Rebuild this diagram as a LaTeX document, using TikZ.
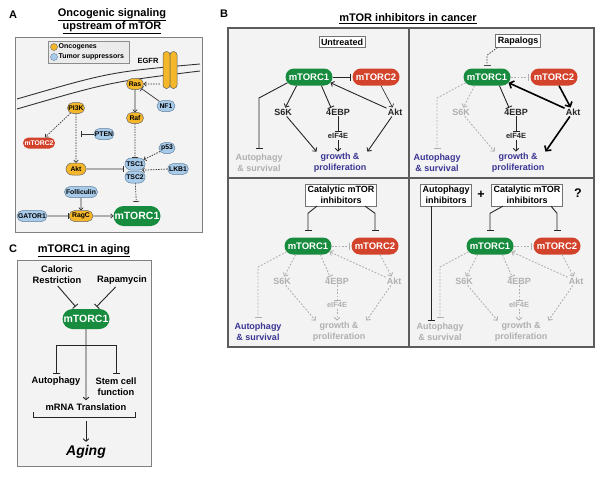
\documentclass[tikz,border=0pt]{standalone}
\usepackage{fontspec}
\setmainfont{Liberation Sans}
\usetikzlibrary{arrows.meta,shapes.misc,calc}
\definecolor{mgreen}{HTML}{178C3E}
\definecolor{mred}{HTML}{D3432B}
\definecolor{onc}{HTML}{F5B72A}
\definecolor{sup}{HTML}{A9CBEA}
\definecolor{supd}{HTML}{62819F}
\definecolor{purp}{HTML}{3B3594}
\definecolor{lgray}{HTML}{B0B0B0}
\definecolor{panel}{HTML}{F3F3F3}
\definecolor{frame}{HTML}{5C5C5C}
\newcommand\ftTitle{\bfseries\fontsize{11}{12}\selectfont}
\newcommand\ftLab{\bfseries\fontsize{9}{11}\selectfont}
\newcommand\ftCLab{\bfseries\fontsize{9.3}{11}\selectfont}
\newcommand\ftSmall{\bfseries\fontsize{7.5}{9}\selectfont}
\newcommand\ftTiny{\bfseries\fontsize{6.8}{8}\selectfont}
\newcommand\ftLeg{\bfseries\fontsize{7}{8}\selectfont}
\newcommand\ftMid{\bfseries\fontsize{9.5}{11}\selectfont}
\newcommand\ftBig{\bfseries\fontsize{10.5}{12}\selectfont}
\newcommand\ftAging{\bfseries\itshape\fontsize{14}{16}\selectfont}
\newcommand\ftQ{\bfseries\fontsize{12.5}{14}\selectfont}
\newcommand\mtorgraph[1]{%
  \node[c1box] (#1c1) at (0,0) {mTORC1};
  \node[c2box] (#1c2) at (67,0) {mTORC2};
  \node[lab,ts6k] (#1s6k) at (-26,35) {S6K};
  \node[lab,tebp] (#1ebp) at (29,35) {4EBP};
  \node[lab,takt] (#1akt) at (86,35) {Akt};
  \node[lab,teif,font=\ftSmall] (#1eif) at (29,59) {eIF4E};
  \node[lab,tgr] (#1gr) at (31,85.5) {growth \&\\proliferation};
  \node[lab,taut] (#1aut) at (-50,85.5) {Autophagy\\\& survival};
  \coordinate (#1bend) at (-50,21);
  \draw[ec1c2, shorten >=1pt] (#1c1.east) -- (#1c2.west);
  \draw[ec1s6k] (#1c1.-145) -- (#1s6k);
  \draw[ec1ebp] (#1c1.-35) -- ([xshift=-7pt]#1ebp.north);
  \draw[ec2akt] (#1c2.-60) -- (#1akt);
  \draw[eaktc1] (#1akt) -- (#1c1.-15);
  \draw[eebpeif] (#1ebp) -- (#1eif);
  \draw[eeifgr] (#1eif) -- (#1eif |- #1gr.north);
  \draw[es6kgr] (#1s6k) -- ([xshift=4pt]#1gr.north west);
  \draw[eaktgr] (#1akt) -- (#1gr.north east);
  \draw[ec1aut, shorten >=4pt] (#1c1.-165) -- (#1bend) -- (#1aut.north);
}
\begin{document}
\begin{tikzpicture}[x=1pt,y=-1pt,
  pframe/.style={fill=panel, draw=black!50, line width=0.8pt},
  pill/.style={rounded rectangle, inner sep=1pt, font=\ftTiny, minimum height=11pt, line width=0.5pt},
  oncn/.style={pill, fill=onc, draw=black!60},
  supn/.style={pill, fill=sup, draw=supd},
  c1A/.style={rounded rectangle, fill=mgreen, text=white, font=\ftBig, minimum width=49pt, minimum height=20pt, inner sep=1pt},
  c2A/.style={pill, fill=mred, text=white, minimum width=31pt},
  c1box/.style={rounded rectangle, fill=mgreen, text=white, font=\ftMid, minimum width=49pt, minimum height=17pt, inner sep=1pt},
  c2box/.style={c1box, fill=mred},
  lab/.style={font=\ftLab, align=center, inner sep=1pt},
  tbox/.style={draw=black!55, fill=white, font=\ftLab, align=center, inner sep=2pt, line width=0.6pt},
  tipA/.style={-{Straight Barb[length=2.6pt,width=5.5pt]}},
  tipT/.style={-{Straight Barb[length=3.6pt,width=8pt]}},
  tipI/.style={-{Bar[width=7pt]}},
  sol/.style={draw=black!85, line width=0.9pt},
  thk/.style={draw=black, line width=1.6pt},
  dg/.style={draw=lgray, line width=0.9pt, dash pattern=on 1.8pt off 1.6pt},
  aA/.style={draw=black!80, line width=0.7pt, -{Straight Barb[length=2.2pt,width=4.5pt]}},
  iA/.style={draw=black!80, line width=0.7pt, -{Bar[width=6pt]}},
  dA/.style={dash pattern=on 1.4pt off 1.2pt}]
\fill[white] (0,0) rectangle (602,477);
\useasboundingbox (0,0) rectangle (602,477);

% ================= Panel A =================
\node[font=\ftTitle] (labA) at (13,15) {A};
\node[font=\ftTitle, align=center] (titA) at (112,21) {\underline{Oncogenic signaling}\\\underline{upstream of mTOR}};
\draw[pframe] (15,37) rectangle (202,232);
\draw[line width=0.9pt, black!80] (17,99) .. controls (110,72) .. (200,64);
\draw[line width=0.9pt, black!80] (17,109) .. controls (110,82) .. (200,71);
\draw[fill=black!8, draw=black!45, line width=0.5pt] (48,41) rectangle (129,63);
\node[circle, fill=onc, draw=black!60, line width=0.4pt, minimum size=7pt, inner sep=0] (lg1) at (54,47) {};
\node[font=\ftLeg, anchor=west, inner sep=0.5pt] (lg1t) at (58,47) {Oncogenes};
\node[circle, fill=sup, draw=supd, line width=0.4pt, minimum size=7pt, inner sep=0] (lg2) at (54,57) {};
\node[font=\ftLeg, anchor=west, inner sep=0.5pt] (lg2t) at (58,57) {Tumor suppressors};
\node[draw=black!65, fill=onc, rounded corners=3.4pt, minimum width=7pt, minimum height=37pt, inner sep=0, line width=0.5pt] (egfrL) at (166.5,70) {};
\node[draw=black!65, fill=onc, rounded corners=3.4pt, minimum width=7pt, minimum height=37pt, inner sep=0, line width=0.5pt] (egfrR) at (173.5,70) {};
\node[font=\ftSmall] (egfrT) at (148,61) {EGFR};

\node[oncn, minimum width=19pt] (ras) at (135,84) {Ras};
\node[supn, minimum width=20pt] (nf1) at (166,106) {NF1};
\node[oncn, minimum width=19pt] (raf) at (135,118) {Raf};
\node[oncn, minimum width=19pt] (pi3k) at (76,108) {PI3K};
\node[c2A] (c2a) at (39,143) {mTORC2};
\node[supn, minimum width=22pt] (pten) at (104,134) {PTEN};
\node[supn, minimum width=18pt] (p53) at (167,148) {p53};
\node[oncn, minimum width=22pt, minimum height=12pt] (akt) at (76,169) {Akt};
\node[supn, minimum width=22pt, minimum height=12pt] (tsc1) at (135,164) {TSC1};
\node[supn, minimum width=22pt, minimum height=12pt] (tsc2) at (135,177) {TSC2};
\node[supn, minimum width=20pt] (lkb1) at (178,169) {LKB1};
\node[supn, minimum width=32pt] (foll) at (81,192) {Folliculin};
\node[oncn, minimum width=26pt] (ragc) at (81,216) {RagC};
\node[supn, minimum width=32pt] (gator) at (32,216) {GATOR1};
\node[c1A] (c1a) at (137,216) {mTORC1};

\draw[aA, dA, shorten <=3pt] (egfrL.west |- ras) -- (ras);
\draw[iA] (nf1) -- (ras);
\draw[aA] (ras) -- (raf);
\draw[iA, dA] (raf) -- (tsc1);
\draw[aA, dA] (p53) -- (tsc1);
\draw[aA, dA] (lkb1.west) -- ([xshift=3pt]tsc1.south east);
\draw[aA, dA] (pi3k) -- (c2a);
\draw[aA, dA] (pi3k) -- (akt);
\draw[iA, shorten >=5pt] (pten.west) -- (pten.west -| pi3k);
\draw[iA, shorten >=1pt] (akt) -- (akt -| tsc1.west);
\draw[iA, dA, shorten >=4pt] (tsc2) -- (c1a);
\draw[aA] (foll) -- (ragc);
\draw[iA] (gator) -- (ragc);
\draw[aA] (ragc) -- (c1a);

% ================= Panel C =================
\node[font=\ftTitle] (labC) at (13,249) {C};
\node[font=\ftTitle] (titC) at (84,251) {\underline{mTORC1 in aging}};
\draw[pframe] (17,260) rectangle (151,466);
\node[lab, font=\ftCLab] (cr) at (57,275) {Caloric\\Restriction};
\node[lab, font=\ftCLab] (rapa) at (122,280) {Rapamycin};
\node[c1A] (c1C) at (86,319) {mTORC1};
\draw[sol, tipI, shorten >=3pt, shorten <=1pt] (cr.south) -- ([xshift=5pt]c1C.north west);
\draw[sol, tipI, shorten >=3pt, shorten <=2pt] ([xshift=-5pt]rapa.south) -- ([xshift=-5pt]c1C.north east);
\coordinate (brk) at (86,345);
\node[lab, font=\ftCLab] (autC) at (56,381) {Autophagy};
\node[lab, font=\ftCLab] (stem) at (116,386.5) {Stem cell\\function};
\node[lab, font=\ftCLab] (mrna) at (86,407) {mRNA Translation};
\draw[sol, tipI, shorten >=2pt] (brk) -- (brk -| autC) -- (autC.north);
\draw[sol, tipI, shorten >=2pt] (brk) -- (brk -| stem) -- (stem.north);
\draw[sol, tipA, shorten >=2pt] (c1C) -- (mrna);
\coordinate (brl) at (33,412);
\coordinate (brr) at (135,412);
\draw[sol] (brl) -- ++(0,5) -- ([yshift=-5pt]brr) -- (brr);
\coordinate (brc) at (86,421);
\node[font=\ftAging] (aging) at (86,452) {Aging};
\draw[sol, tipA] (brc) -- (aging);

% ================= Panel B =================
\node[font=\ftTitle] (labB) at (224,14) {B};
\node[font=\ftTitle] (titB) at (408,19) {\underline{mTOR inhibitors in cancer}};
\draw[fill=panel, draw=frame, line width=1.1pt] (228,28) rectangle (594,347);
\draw[draw=frame, line width=1.1pt] (409,28) -- (409,347);
\draw[draw=frame, line width=1.1pt] (228,178) -- (594,178);

% upper left: untreated
\node[tbox] (untr) at (342,42) {Untreated};
\begin{scope}[shift={(309,77)},
  ec1c2/.style={sol,tipI}, ec1s6k/.style={sol,tipA}, ec1ebp/.style={sol,tipI},
  ec2akt/.style={sol,tipA,line width=0.6pt}, eaktc1/.style={sol,tipA},
  eebpeif/.style={sol,tipI}, eeifgr/.style={sol,tipA}, es6kgr/.style={sol,tipA},
  eaktgr/.style={sol,tipA}, ec1aut/.style={sol,tipI},
  ts6k/.style={text=black!85}, tebp/.style={text=black!85}, takt/.style={text=black!85},
  teif/.style={text=black!85}, tgr/.style={text=purp}, taut/.style={text=lgray}]
\mtorgraph{ul}
\end{scope}

% upper right: rapalogs
\node[tbox] (rapal) at (518,41) {Rapalogs};
\begin{scope}[shift={(487,77)},
  ec1c2/.style={dg,tipI}, ec1s6k/.style={dg,tipA}, ec1ebp/.style={sol,tipI},
  ec2akt/.style={thk,tipT}, eaktc1/.style={thk,tipT},
  eebpeif/.style={sol,tipI}, eeifgr/.style={sol,tipA}, es6kgr/.style={dg,tipA},
  eaktgr/.style={thk,tipT}, ec1aut/.style={dg,tipI},
  ts6k/.style={text=lgray}, tebp/.style={text=black!85}, takt/.style={text=black!85},
  teif/.style={text=black!85}, tgr/.style={text=purp}, taut/.style={text=purp}]
\mtorgraph{ur}
\end{scope}
\draw[draw=black!70, line width=0.8pt, dash pattern=on 1.5pt off 1.3pt, tipI, shorten >=3pt] ([xshift=2pt]rapal.south west) -- ([yshift=13pt]urc1.north) -- (urc1.north);

% lower left: catalytic
\node[tbox] (catL) at (341,195) {Catalytic mTOR\\inhibitors};
\begin{scope}[shift={(308,246)},
  ec1c2/.style={dg,tipI}, ec1s6k/.style={dg,tipA}, ec1ebp/.style={dg,tipI},
  ec2akt/.style={dg,tipA}, eaktc1/.style={dg,tipA},
  eebpeif/.style={dg,tipI}, eeifgr/.style={dg,tipA}, es6kgr/.style={dg,tipA},
  eaktgr/.style={dg,tipA}, ec1aut/.style={dg,tipI},
  ts6k/.style={text=lgray}, tebp/.style={text=lgray}, takt/.style={text=lgray},
  teif/.style={text=lgray}, tgr/.style={text=lgray}, taut/.style={text=purp}]
\mtorgraph{ll}
\end{scope}
\draw[sol, tipI, shorten >=6pt] ([xshift=-24pt]catL.south) -- ([yshift=24pt]llc1.north) -- (llc1.north);
\draw[sol, tipI, shorten >=6pt] ([xshift=24pt]catL.south) -- ([yshift=24pt]llc2.north) -- (llc2.north);

% lower right: autophagy inhibitors + catalytic
\node[tbox] (autinh) at (446,195) {Autophagy\\inhibitors};
\node[font=\ftQ] (plus) at (481,195) {+};
\node[tbox] (catR) at (527,195) {Catalytic mTOR\\inhibitors};
\node[font=\ftQ] (qm) at (578,193) {?};
\begin{scope}[shift={(490,246)},
  ec1c2/.style={dg,tipI}, ec1s6k/.style={dg,tipA}, ec1ebp/.style={dg,tipI},
  ec2akt/.style={dg,tipA}, eaktc1/.style={dg,tipA},
  eebpeif/.style={dg,tipI}, eeifgr/.style={dg,tipA}, es6kgr/.style={dg,tipA},
  eaktgr/.style={dg,tipA}, ec1aut/.style={dg,tipI},
  ts6k/.style={text=lgray}, tebp/.style={text=lgray}, takt/.style={text=lgray},
  teif/.style={text=lgray}, tgr/.style={text=lgray}, taut/.style={text=lgray}]
\mtorgraph{lr}
\end{scope}
\draw[sol, tipI, shorten >=6pt] ([xshift=-24pt]catR.south) -- ([yshift=24pt]lrc1.north) -- (lrc1.north);
\draw[sol, tipI, shorten >=6pt] ([xshift=24pt]catR.south) -- ([yshift=24pt]lrc2.north) -- (lrc2.north);
\coordinate (ai) at ([xshift=-15pt]autinh.south);
\draw[sol, tipI, shorten >=1pt] (ai) -- (ai |- lraut.north);
\end{tikzpicture}
\end{document}
